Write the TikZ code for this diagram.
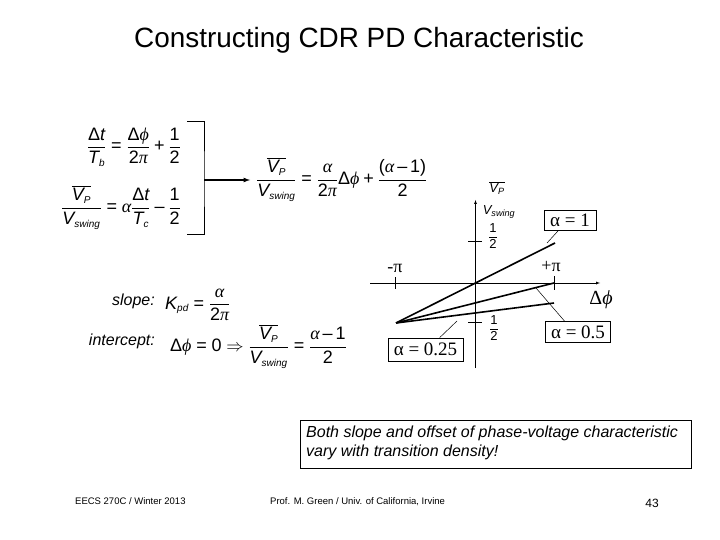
\documentclass[tikz,border=0pt]{standalone}
\usepackage{amsmath, amssymb}
\usepackage{fontspec}
\setmainfont{Liberation Sans}
\newfontfamily\symfont{Liberation Serif}
\newcommand{\rmt}[1]{\text{\upshape #1}}
\newcommand{\itt}[1]{\text{\itshape #1}}
\newcommand{\grk}[1]{\text{\symfont\itshape #1}}
\newcommand{\subt}[1]{_{\text{\itshape\fontsize{10}{12}\selectfont #1}}}
\newcommand{\eqs}{\mathrel{\rmt{=}}}
\newcommand{\plu}{\mathbin{\rmt{+}}}
\newcommand{\mnu}{\mathbin{\rmt{–}}}
\newcommand{\tmnu}{\,\rmt{–}\,}
\newcommand{\half}{\frac{\rmt{1}}{\rmt{2}}}
\newcommand{\vfrac}{\frac{\overline{\itt{V}\subt{P}}}{\itt{V}\subt{swing}}}
\newcommand{\dphi}{\rmt{Δ}\grk{ϕ}}
\tikzset{
  eqn/.style={inner sep=0pt, font=\fontsize{18}{21}\selectfont},
  lbl/.style={inner sep=0pt, font=\itshape\fontsize{16}{19}\selectfont},
  axlbl/.style={inner sep=0pt, font=\itshape\fontsize{13}{15}\selectfont},
  sym/.style={inner sep=0pt, font=\symfont\fontsize{18}{21}\selectfont},
  alphabox/.style={draw, thick, inner sep=0pt, font=\symfont\fontsize{19}{22}\selectfont},
  foot/.style={inner sep=0pt, anchor=base west, font=\fontsize{9.5}{11}\selectfont},
  curve/.style={line width=1.6pt},
  leader/.style={line width=0.5pt}
}
\begin{document}
\begin{tikzpicture}[x=1pt, y=-1pt]
  \useasboundingbox (0,0) rectangle (720,540);

  \node[inner sep=0pt, font=\fontsize{27.9}{32}\selectfont] (title) at (359,40) {Constructing CDR PD Characteristic};

  %Equations on the left
  \node[eqn, anchor=east] (eqtb) at (181,147) {$\displaystyle \frac{\rmt{Δ}\itt{t}}{\itt{T}\subt{b}}\eqs\frac{\dphi}{\rmt{2}\grk{π}}\plu\half$};
  \node[eqn, anchor=east] (eqtc) at (181,207) {$\displaystyle \vfrac\eqs\grk{α}\frac{\rmt{Δ}\itt{t}}{\itt{T}\subt{c}}\mnu\half$};
  \node[eqn, anchor=west] (eqvp) at (256,179) {$\displaystyle \vfrac\eqs\frac{\grk{α}}{\rmt{2}\grk{π}}\dphi\plu\frac{\rmt{(}\grk{α}\tmnu\rmt{1)}}{\rmt{2}}$};

  %Bracket and arrow
  \coordinate (brtop) at (187,121);
  \coordinate (brbot) at (187,234);
  \coordinate (brmid) at (204,180);
  \coordinate (brend) at (250,180);
  \draw[thick] (brtop) -| (brmid) |- (brbot);
  \draw[line width=1.2pt, -latex] (brmid) -- (brend);

  %Slope and intercept
  \node[lbl, anchor=east] (slope) at (155,301) {slope:};
  \node[lbl, anchor=east] (intercept) at (155,341) {intercept:};
  \node[eqn, anchor=west] (eqkpd) at (165,305) {$\displaystyle \itt{K}\subt{pd}\eqs\frac{\grk{α}}{\rmt{2}\grk{π}}$};
  \node[eqn, anchor=west] (eqzero) at (170,346) {$\displaystyle \dphi\eqs\rmt{0}\Rightarrow\vfrac\eqs\frac{\grk{α}\tmnu\rmt{1}}{\rmt{2}}$};

  %Axes
  \coordinate (xmin) at (370,283);
  \coordinate (xmax) at (600,283);
  \coordinate (ymin) at (475.5,368);
  \coordinate (ymax) at (475.5,200);
  \draw[-latex] (xmin) -- (xmax);
  \draw[-latex] (ymin) -- (ymax);

  %Ticks
  \coordinate (tla) at (395.5,277);
  \coordinate (tlb) at (395.5,289);
  \coordinate (tra) at (554.5,276);
  \coordinate (trb) at (554.5,290);
  \coordinate (tua) at (468,241.7);
  \coordinate (tub) at (482,241.7);
  \coordinate (tda) at (468,322.7);
  \coordinate (tdb) at (482,322.7);
  \draw (tla) -- (tlb);
  \draw[thick] (tra) -- (trb);
  \draw[thick] (tua) -- (tub);
  \draw[thick] (tda) -- (tdb);

  %Axis labels
  \node[axlbl] (vp) at (497,188) {$\overline{\itt{V}_{\text{\itshape P}}}$};
  \node[axlbl] (vswing) at (499,212) {$\itt{V}_{\text{\itshape swing}}$};
  \node[eqn, font=\fontsize{13}{15}\selectfont] (halfup) at (493,236) {$\displaystyle \half$};
  \node[eqn, font=\fontsize{13}{15}\selectfont] (halfdn) at (494,328) {$\displaystyle \half$};
  \node[sym] (mpi) at (395,268) {-π};
  \node[sym] (ppi) at (551,267) {+π};
  \node[sym, font=\symfont\fontsize{20}{23}\selectfont] (dphi) at (601,300) {Δ\textit{ϕ}};

  %Characteristics
  \coordinate (start) at (396,323);
  \coordinate (endone) at (555,243);
  \coordinate (endhalf) at (554,283);
  \coordinate (endquarter) at (554,303);
  \draw[curve] (start) -- (endone);
  \draw[curve] (start) -- (endhalf);
  \draw[curve] (start) -- (endquarter);

  %Alpha boxes
  \node[alphabox, minimum width=52pt, minimum height=20pt] (aone) at (570,220.5) {α = 1};
  \node[alphabox, minimum width=65pt, minimum height=21pt] (ahalf) at (578,332) {α = 0.5};
  \node[alphabox, minimum width=75pt, minimum height=23pt] (aquarter) at (425.5,349.5) {α = 0.25};
  \coordinate (laone) at (547,243);
  \coordinate (lahalf) at (536,288);
  \coordinate (laquarter) at (457,321);
  \draw[leader] (laone) -- (aone.221);
  \draw[leader] (lahalf) -- (ahalf.141);
  \draw[leader] (laquarter) -- (aquarter.40);

  %Note
  \node[draw, thick, inner sep=0pt, minimum width=391pt, minimum height=48pt] (note) at (495.5,444) {};
  \node[lbl, anchor=west, align=left] (notetext) at (306,443) {Both slope and offset of phase-voltage characteristic\\vary with transition density!};

  %Footer
  \node[foot] (course) at (75,504.5) {EECS 270C / Winter 2013};
  \node[foot] (prof) at (270,504.5) {Prof. M. Green / Univ. of California, Irvine};
  \node[inner sep=0pt, font=\fontsize{12}{14}\selectfont] (page) at (652,503) {43};
\end{tikzpicture}
\end{document}
